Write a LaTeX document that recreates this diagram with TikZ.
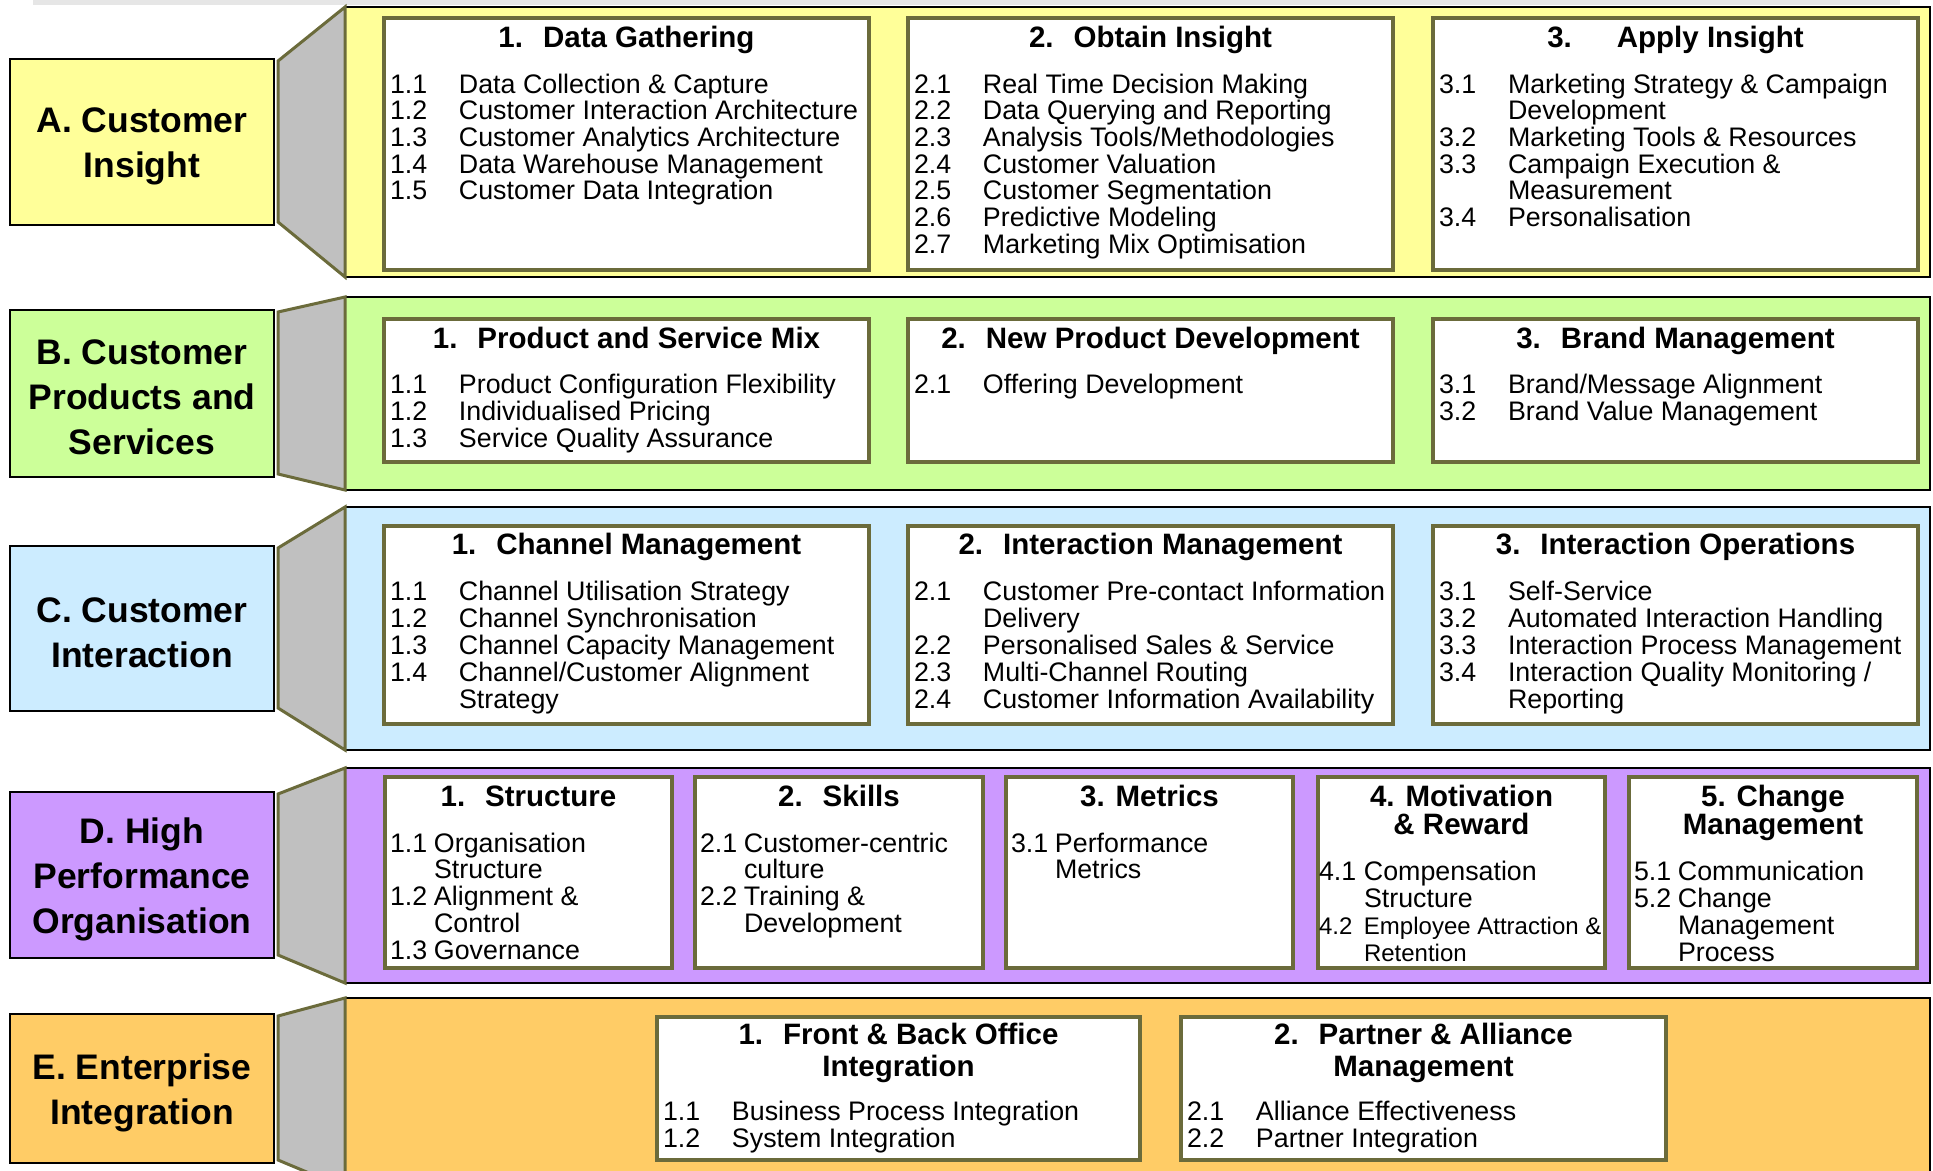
\documentclass[tikz,border=0pt]{standalone}
\usepackage{fontspec}
\setmainfont{Liberation Sans}
\usetikzlibrary{calc}
\definecolor{ycol}{HTML}{FFFF99}
\definecolor{gcol}{HTML}{CCFF99}
\definecolor{bcol}{HTML}{CCECFF}
\definecolor{pcol}{HTML}{CC99FF}
\definecolor{ocol}{HTML}{FFCC66}
\definecolor{trapgray}{HTML}{C0C0C0}
\definecolor{olivec}{HTML}{6B6B3B}
\definecolor{stripgray}{HTML}{E6E6E6}
\newcommand\bodyfont{\fontsize{26.8pt}{26.8pt}\selectfont}
\newcommand\smallbody{\fontsize{24pt}{24pt}\selectfont}
\newcommand\ttlfont{\bfseries\fontsize{29.5pt}{30pt}\selectfont}
\newcommand\labfont{\bfseries\fontsize{35.5pt}{45pt}\selectfont}
\newlength\numw
\newcommand\itm[2]{\hbox{\hbox to\numw{#1\hfil}#2}}
\newcommand\cnt[1]{\hbox{\hskip\numw #1}}
\newcommand\blk[2]{\vtop{\baselineskip=#1\lineskiplimit=-1000pt\lineskip=0pt #2}}
\newcommand\ctr[2]{\vtop{\baselineskip=#1\lineskiplimit=-1000pt\lineskip=0pt\halign{\hfil##\hfil\cr#2\crcr}}}
\tikzset{
 panel/.style={draw=black,line width=2.5pt,anchor=north west,outer sep=0pt,inner sep=0pt},
 ibox/.style={draw=olivec,line width=4pt,fill=white,anchor=north west,outer sep=0pt,inner sep=0pt},
 lab/.style={draw=black,line width=2.5pt,anchor=north west,outer sep=0pt,inner sep=0pt,minimum width=264},
 labtxt/.style={align=center,font=\labfont,inner sep=0pt,outer sep=0pt},
 trap/.style={fill=trapgray,draw=olivec,line width=3pt,line join=miter},
 ttl/.style={font=\ttlfont,anchor=base,inner sep=0pt,outer sep=0pt},
 body/.style={font=\bodyfont,anchor=base west,inner sep=0pt,outer sep=0pt},
}
\newcommand\ibx[5]{\node[ibox,minimum width={#4-#2},minimum height={#5-#3}] (#1) at (#2,#3) {};}
\begin{document}
\begin{tikzpicture}[x=1pt,y=-1pt]
\useasboundingbox (0,0) rectangle (1933,1170);
\fill[stripgray] (33,0) rectangle (1900,5);

% ---------- panels ----------
\node[panel,fill=ycol,minimum width=1585,minimum height=270] (pa) at (345,7) {};
\node[panel,fill=gcol,minimum width=1585,minimum height=193] (pb) at (345,297) {};
\node[panel,fill=bcol,minimum width=1585,minimum height=243] (pc) at (345,507) {};
\node[panel,fill=pcol,minimum width=1585,minimum height=215] (pd) at (345,768) {};
\node[panel,fill=ocol,minimum width=1585,minimum height=190] (pe) at (345,998) {};

% ---------- labels ----------
\node[lab,fill=ycol,minimum height=166] (la) at (10,59) {};
\node[lab,fill=gcol,minimum height=167] (lb) at (10,310) {};
\node[lab,fill=bcol,minimum height=165] (lc) at (10,546) {};
\node[lab,fill=pcol,minimum height=166] (ld) at (10,792) {};
\node[lab,fill=ocol,minimum height=149] (le) at (10,1014) {};
\node[labtxt] (lat) at ($(la.center)+(0,4)$) {A. Customer\\Insight};
\node[labtxt] (lbt) at ($(lb.center)+(0,4)$) {B. Customer\\Products and\\Services};
\node[labtxt] (lct) at ($(lc.center)+(0,4)$) {C. Customer\\Interaction};
\node[labtxt] (ldt) at ($(ld.center)+(0,4)$) {D. High\\Performance\\Organisation};
\node[labtxt] (let) at ($(le.center)+(0,4)$) {E. Enterprise\\Integration};

% ---------- trapezoids ----------
\foreach \l/\p in {la/pa,lb/pb,lc/pc,ld/pd,le/pe}{
  \draw[trap] ($(\l.north east)+(4,2)$) -- (\p.north west) -- (\p.south west) -- ($(\l.south east)+(4,-3)$) -- cycle;
}

% ---------- row A ----------
\ibx{a1}{384}{18}{869}{270}
\ibx{a2}{908}{18}{1393}{270}
\ibx{a3}{1433}{18}{1918}{270}
\node[ttl] (a1t) at ($(a1.north)+(0,29)$) {\ctr{30pt}{1.\hspace{20pt}Data Gathering}};
\node[ttl] (a2t) at ($(a2.north)+(0,29)$) {\ctr{30pt}{2.\hspace{20pt}Obtain Insight}};
\node[ttl] (a3t) at ($(a3.north)+(0,29)$) {\ctr{30pt}{3.\hspace{45pt}Apply Insight}};
\node[body] (a1b) at ($(a1.north west)+(6,75)$) {\setlength\numw{69pt}\blk{26.7pt}{%
 \itm{1.1}{Data Collection \& Capture}
 \itm{1.2}{Customer Interaction Architecture}
 \itm{1.3}{Customer Analytics Architecture}
 \itm{1.4}{Data Warehouse Management}
 \itm{1.5}{Customer Data Integration}}};
\node[body] (a2b) at ($(a2.north west)+(6,75)$) {\setlength\numw{69pt}\blk{26.7pt}{%
 \itm{2.1}{Real Time Decision Making}
 \itm{2.2}{Data Querying and Reporting}
 \itm{2.3}{Analysis Tools/Methodologies}
 \itm{2.4}{Customer Valuation}
 \itm{2.5}{Customer Segmentation}
 \itm{2.6}{Predictive Modeling}
 \itm{2.7}{Marketing Mix Optimisation}}};
\node[body] (a3b) at ($(a3.north west)+(6,75)$) {\setlength\numw{69pt}\blk{26.7pt}{%
 \itm{3.1}{Marketing Strategy \& Campaign}
 \cnt{Development}
 \itm{3.2}{Marketing Tools \& Resources}
 \itm{3.3}{Campaign Execution \&}
 \cnt{Measurement}
 \itm{3.4}{Personalisation}}};

% ---------- row B ----------
\ibx{b1}{384}{319}{869}{462}
\ibx{b2}{908}{319}{1393}{462}
\ibx{b3}{1433}{319}{1918}{462}
\node[ttl] (b1t) at ($(b1.north)+(0,29)$) {\ctr{30pt}{1.\hspace{20pt}Product and Service Mix}};
\node[ttl] (b2t) at ($(b2.north)+(0,29)$) {\ctr{30pt}{2.\hspace{20pt}New Product Development}};
\node[ttl] (b3t) at ($(b3.north)+(0,29)$) {\ctr{30pt}{3.\hspace{20pt}Brand Management}};
\node[body] (b1b) at ($(b1.north west)+(6,74)$) {\setlength\numw{69pt}\blk{27pt}{%
 \itm{1.1}{Product Configuration Flexibility}
 \itm{1.2}{Individualised Pricing}
 \itm{1.3}{Service Quality Assurance}}};
\node[body] (b2b) at ($(b2.north west)+(6,74)$) {\setlength\numw{69pt}\blk{27pt}{%
 \itm{2.1}{Offering Development}}};
\node[body] (b3b) at ($(b3.north west)+(6,74)$) {\setlength\numw{69pt}\blk{27pt}{%
 \itm{3.1}{Brand/Message Alignment}
 \itm{3.2}{Brand Value Management}}};

% ---------- row C ----------
\ibx{c1}{384}{526}{869}{724}
\ibx{c2}{908}{526}{1393}{724}
\ibx{c3}{1433}{526}{1918}{724}
\node[ttl] (c1t) at ($(c1.north)+(0,28)$) {\ctr{30pt}{1.\hspace{20pt}Channel Management}};
\node[ttl] (c2t) at ($(c2.north)+(0,28)$) {\ctr{30pt}{2.\hspace{20pt}Interaction Management}};
\node[ttl] (c3t) at ($(c3.north)+(0,28)$) {\ctr{30pt}{3.\hspace{20pt}Interaction Operations}};
\node[body] (c1b) at ($(c1.north west)+(6,74)$) {\setlength\numw{69pt}\blk{27pt}{%
 \itm{1.1}{Channel Utilisation Strategy}
 \itm{1.2}{Channel Synchronisation}
 \itm{1.3}{Channel Capacity Management}
 \itm{1.4}{Channel/Customer Alignment}
 \cnt{Strategy}}};
\node[body] (c2b) at ($(c2.north west)+(6,74)$) {\setlength\numw{69pt}\blk{27pt}{%
 \itm{2.1}{Customer Pre-contact Information}
 \cnt{Delivery}
 \itm{2.2}{Personalised Sales \& Service}
 \itm{2.3}{Multi-Channel Routing}
 \itm{2.4}{Customer Information Availability}}};
\node[body] (c3b) at ($(c3.north west)+(6,74)$) {\setlength\numw{69pt}\blk{27pt}{%
 \itm{3.1}{Self-Service}
 \itm{3.2}{Automated Interaction Handling}
 \itm{3.3}{Interaction Process Management}
 \itm{3.4}{Interaction Quality Monitoring /}
 \cnt{Reporting}}};

% ---------- row D ----------
\ibx{d1}{385}{777}{672}{968}
\ibx{d2}{695}{777}{983}{968}
\ibx{d3}{1006}{777}{1293}{968}
\ibx{d4}{1318}{777}{1605}{968}
\ibx{d5}{1629}{777}{1917}{968}
\node[ttl] (d1t) at ($(d1.north)+(0,29)$) {\ctr{28.6pt}{1.\hspace{20pt}Structure}};
\node[ttl] (d2t) at ($(d2.north)+(0,29)$) {\ctr{28.6pt}{2.\hspace{20pt}Skills}};
\node[ttl] (d3t) at ($(d3.north)+(0,29)$) {\ctr{28.6pt}{3. Metrics}};
\node[ttl] (d4t) at ($(d4.north)+(0,29)$) {\ctr{28.6pt}{4. Motivation\cr \& Reward}};
\node[ttl] (d5t) at ($(d5.north)+(0,29)$) {\ctr{28.6pt}{5. Change\cr Management}};
\node[body] (d1b) at ($(d1.north west)+(5,75)$) {\setlength\numw{44pt}\blk{26.9pt}{%
 \itm{1.1}{Organisation}
 \cnt{Structure}
 \itm{1.2}{Alignment \&}
 \cnt{Control}
 \itm{1.3}{Governance}}};
\node[body] (d2b) at ($(d2.north west)+(5,75)$) {\setlength\numw{44pt}\blk{26.9pt}{%
 \itm{2.1}{Customer-centric}
 \cnt{culture}
 \itm{2.2}{Training \&}
 \cnt{Development}}};
\node[body] (d3b) at ($(d3.north west)+(5,75)$) {\setlength\numw{44pt}\blk{26.9pt}{%
 \itm{3.1}{Performance}
 \cnt{Metrics}}};
\node[body] (d4b) at ($(d4.north west)+(1,103)$) {\setlength\numw{45pt}\blk{27pt}{%
 \itm{4.1}{Compensation}
 \cnt{Structure}
 \itm{\smallbody 4.2}{\smallbody Employee Attraction \&}
 \cnt{\smallbody Retention}}};
\node[body] (d5b) at ($(d5.north west)+(5,103)$) {\setlength\numw{44pt}\blk{27.3pt}{%
 \itm{5.1}{Communication}
 \itm{5.2}{Change}
 \cnt{Management}
 \cnt{Process}}};

% ---------- row E ----------
\ibx{e1}{657}{1017}{1140}{1160}
\ibx{e2}{1181}{1017}{1666}{1160}
\node[ttl] (e1t) at ($(e1.north)+(0,27)$) {\ctr{32pt}{1.\hspace{20pt}Front \& Back Office\cr Integration}};
\node[ttl] (e2t) at ($(e2.north)+(0,27)$) {\ctr{32pt}{2.\hspace{20pt}Partner \& Alliance\cr Management}};
\node[body] (e1b) at ($(e1.north west)+(6,103)$) {\setlength\numw{69pt}\blk{27.5pt}{%
 \itm{1.1}{Business Process Integration}
 \itm{1.2}{System Integration}}};
\node[body] (e2b) at ($(e2.north west)+(6,103)$) {\setlength\numw{69pt}\blk{27.5pt}{%
 \itm{2.1}{Alliance Effectiveness}
 \itm{2.2}{Partner Integration}}};
\end{tikzpicture}
\end{document}
